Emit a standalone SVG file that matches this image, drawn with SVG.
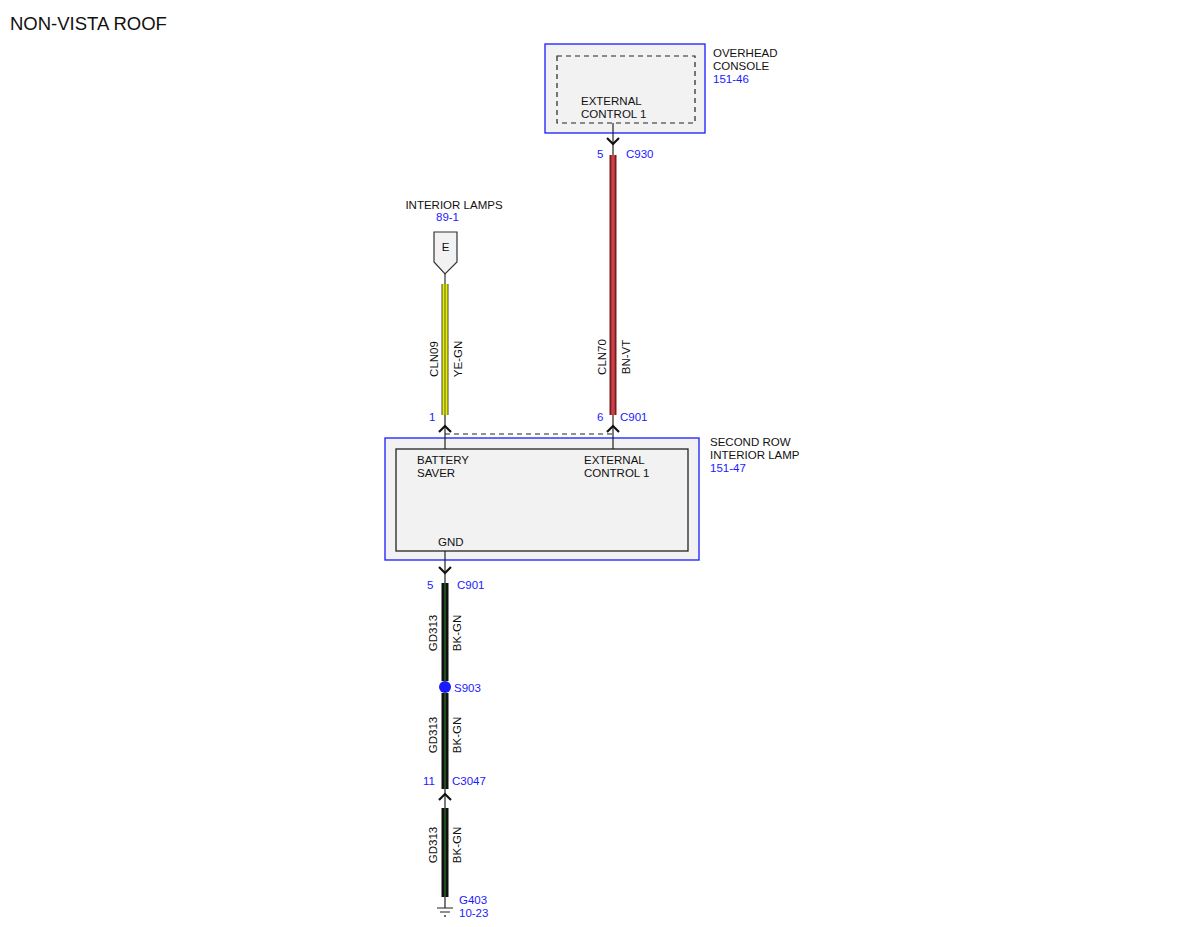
<svg xmlns="http://www.w3.org/2000/svg" width="1200" height="927" viewBox="0 0 1200 927">
<style>
text{font-family:"Liberation Sans",Arial,sans-serif;font-size:11.5px;fill:#111}
.b{fill:#1a1aff}
.title{font-size:18.5px}
.box{fill:#f2f2f2;stroke:#1a1aff;stroke-width:1.3}
.inner{fill:#f2f2f2;stroke:#222;stroke-width:1.3}
.dash{fill:none;stroke:#222;stroke-width:1.2;stroke-dasharray:5,4}
.ln{stroke:#222;stroke-width:1.2;fill:none}
.chev{stroke:#111;stroke-width:2.2;fill:none}
</style>
<rect width="1200" height="927" fill="#fff"/>
<text x="10" y="30" class="title">NON-VISTA ROOF</text>

<g id="overhead-console">
<rect x="545" y="44" width="160" height="89" class="box"/>
<rect x="557" y="56" width="138" height="67" class="dash"/>
<text x="581" y="105">EXTERNAL</text>
<text x="581" y="118">CONTROL 1</text>
<text x="713" y="57">OVERHEAD</text>
<text x="713" y="70">CONSOLE</text>
<text x="713" y="83" class="b">151-46</text>
</g>

<g id="interior-lamps">
<path d="M434,232 H457 V262 L445,274 L434,262 Z" fill="#f2f2f2" stroke="#333" stroke-width="1.2"/>
<text x="445.5" y="251" text-anchor="middle">E</text>
<text x="454" y="209" text-anchor="middle">INTERIOR LAMPS</text>
<text x="436" y="221" class="b">89-1</text>
</g>

<g id="second-row-lamp">
<rect x="385" y="438" width="314" height="122" class="box"/>
<rect x="396" y="449" width="292" height="102" class="inner"/>
<text x="417" y="464">BATTERY</text>
<text x="417" y="477">SAVER</text>
<text x="584" y="464">EXTERNAL</text>
<text x="584" y="477">CONTROL 1</text>
<text x="438" y="546">GND</text>
<text x="710" y="446">SECOND ROW</text>
<text x="710" y="459">INTERIOR LAMP</text>
<text x="710" y="472" class="b">151-47</text>
</g>

<g id="splice-s903">
<circle cx="445" cy="687" r="6" fill="#1a1aff"/>
<text x="454" y="692" class="b">S903</text>
</g>

<g id="ground-g403">
<path d="M445,897 V908 M437,908 H453 M440,912 H450" class="ln"/>
<circle cx="445" cy="916" r="0.9" fill="#222"/>
<text x="459" y="904" class="b">G403</text>
<text x="459" y="917" class="b">10-23</text>
</g>

<g id="connectors">
<path d="M613,123 V155" class="ln"/>
<path d="M607,138 L613,144 L619,138" class="chev"/>
<text x="597" y="158" class="b">5</text>
<text x="626" y="158" class="b">C930</text>
<line x1="613" y1="155" x2="613" y2="415" stroke="#7a1a1a" stroke-width="7"/>
<line x1="613" y1="155" x2="613" y2="415" stroke="#c8404a" stroke-width="3.5"/>
<text transform="translate(606,357) rotate(-90)" text-anchor="middle">CLN70</text>
<text transform="translate(630,357) rotate(-90)" text-anchor="middle">BN-VT</text>
<line x1="445" y1="274" x2="445" y2="284" stroke="#333" stroke-width="1.2"/>
<line x1="445" y1="284" x2="445" y2="415" stroke="#444" stroke-width="7"/>
<line x1="445" y1="284" x2="445" y2="415" stroke="#e8f000" stroke-width="5"/>
<line x1="445" y1="284" x2="445" y2="415" stroke="#5a6a10" stroke-width="1"/>
<text transform="translate(438,359) rotate(-90)" text-anchor="middle">CLN09</text>
<text transform="translate(462,359) rotate(-90)" text-anchor="middle">YE-GN</text>
<text x="429" y="421" class="b">1</text>
<text x="597" y="421" class="b">6</text>
<text x="620" y="421" class="b">C901</text>
<path d="M445,415 V449 M613,415 V449" class="ln"/>
<path d="M439,432 L445,426 L451,432" class="chev"/>
<path d="M607,432 L613,426 L619,432" class="chev"/>
<path d="M445,434 H613" class="dash"/>
<path d="M445,551 V583" class="ln"/>
<path d="M439,567 L445,573 L451,567" class="chev"/>
<text x="427" y="589" class="b">5</text>
<text x="457" y="589" class="b">C901</text>
<g stroke-linecap="butt">
<line x1="445" y1="583" x2="445" y2="681" stroke="#111" stroke-width="7"/>
<line x1="445" y1="583" x2="445" y2="681" stroke="#2a8a2a" stroke-width="1"/>
<line x1="445" y1="693" x2="445" y2="789" stroke="#111" stroke-width="7"/>
<line x1="445" y1="693" x2="445" y2="789" stroke="#2a8a2a" stroke-width="1"/>
<line x1="445" y1="808" x2="445" y2="897" stroke="#111" stroke-width="7"/>
<line x1="445" y1="808" x2="445" y2="897" stroke="#2a8a2a" stroke-width="1"/>
</g>
<text transform="translate(437,633) rotate(-90)" text-anchor="middle">GD313</text>
<text transform="translate(461,633) rotate(-90)" text-anchor="middle">BK-GN</text>
<text transform="translate(437,735) rotate(-90)" text-anchor="middle">GD313</text>
<text transform="translate(461,735) rotate(-90)" text-anchor="middle">BK-GN</text>
<text transform="translate(437,845) rotate(-90)" text-anchor="middle">GD313</text>
<text transform="translate(461,845) rotate(-90)" text-anchor="middle">BK-GN</text>
<path d="M445,789 V808" class="ln"/>
<path d="M439,800 L445,794 L451,800" class="chev"/>
<text x="423" y="785" class="b">11</text>
<text x="452" y="785" class="b">C3047</text>
</g>
</svg>
